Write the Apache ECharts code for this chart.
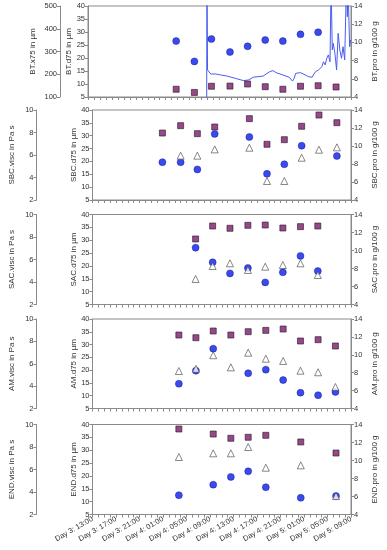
<!DOCTYPE html>
<html><head><meta charset="utf-8">
<script src="https://cdn.jsdelivr.net/npm/echarts@6/dist/echarts.min.js"></script>
<style>html,body{margin:0;padding:0;background:#fff}#c{width:387px;height:550px}</style>
</head><body><div id="c"></div>
<script>
// x values: hours since Day 3, 13:00
const xTickLabelsStart = {day: 3, hour: 13};

const btTime = [14.75, 17.8, 20.65, 23.75, 26.7, 29.65, 32.6, 35.55, 38.5, 41.5];
const btD75  = [26.5, 18.7, 27.3, 22.3, 24.5, 26.9, 26.5, 29.1, 29.9, null];
const btPro  = [4.85, 4.5, 5.18, 5.2, 5.43, 5.13, 4.85, 5.18, 5.24, 5.1];
const x75Hours  = [19.85,19.9,20.0,20.54,21.36,22.18,23.28,24.64,26.02,26.28,26.84,27.66,29.30,30.38,30.93,31.48,32.57,33.66,34.21,34.48,34.75,35.57,36.93,37.49,38.03,38.57,39.13,39.39,39.67,39.95,40.21,40.49,40.66,40.87,41.03,41.31,41.59,41.85,42.13,42.41,42.67,42.95,43.23,43.39,43.49,43.77,43.93];
const x75Values = [0,650,219,201,201,197,192,182,172,167,175,187,192,211,216,207,197,187,170,182,204,207,189,187,211,219,233,255,241,270,285,255,600,307,336,292,219,380,307,270,321,263,600,453,600,321,351];

const sbcTime = [11.9, 15.0, 17.85, 20.8, 26.7, 29.7, 32.65, 35.6, 38.55, 41.6];
const sbcD75  = [19.7, 19.7, 16.9, 30.7, 29.5, 15.2, 18.9, 26.1, null, 22.1];
const sbcPro  = [11.44, 12.26, 11.37, 12.11, 13.04, 10.19, 10.7, 12.19, 13.44, 12.59];
const sbcVisc = [null, 5.94, 5.94, 6.5, 6.65, 3.69, 3.69, 5.76, 6.47, 6.68];

const sacTime = [17.55, 20.45, 23.4, 26.45, 29.4, 32.4, 35.4, 38.35];
const sacD75  = [27.1, 21.4, 17.1, 19.2, 13.6, 17.5, 23.9, 18.0];
const sacPro  = [11.28, 12.72, 12.47, 12.8, 12.83, 12.5, 12.65, 12.72];
const sacVisc = [4.27, 5.42, 5.66, 5.07, 5.36, 5.51, 5.66, 4.62];

const amTime = [14.7, 17.6, 20.55, 23.55, 26.5, 29.5, 32.45, 35.4, 38.4, 41.35];
const amD75  = [14.7, 19.8, 28.4, null, 18.8, 20.2, 16.1, 11.2, 10.2, 11.5];
const amPro  = [12.21, 11.91, 12.66, 12.21, 12.58, 12.73, 12.88, 11.54, 11.69, 10.98];
const amVisc = [5.35, 5.55, 6.76, 5.68, 6.99, 6.45, 6.25, 5.38, 5.24, 3.92];

const endTime = [14.7, 20.55, 23.55, 26.5, 29.5, 35.45, 41.45];
const endD75  = [12.5, 16.6, 19.6, 21.8, 15.6, 11.5, 12.2];
const endPro  = [13.5, 12.94, 12.47, 12.58, 12.8, 12.06, 10.83];
const endVisc = [7.11, 7.44, 7.44, 8.0, 6.16, 6.37, 3.64];

const panelNames = ['BT', 'SBC', 'SAC', 'AM', 'END'];

// ---------- layout / styling ----------
const FONT = 'Liberation Sans, Arial, sans-serif';
const AX = '#8a8a8a', TXT = '#333';
const tops = [6, 110, 214.5, 319, 424.5];
const heights = [91, 90, 90, 89.5, 90];

function pairs(t, v) { const r = []; t.forEach((x, i) => { if (v[i] != null) r.push([x, v[i]]); }); return r; }
function fmtX(v) {
  const tot = v + xTickLabelsStart.hour;
  const d = xTickLabelsStart.day + Math.floor(tot / 24);
  const h = Math.round(tot % 24);
  return 'Day ' + d + ': ' + String(h).padStart(2, '0') + ':00';
}

const panels = [
  {time: btTime, d75: btD75, pro: btPro, visc: null},
  {time: sbcTime, d75: sbcD75, pro: sbcPro, visc: sbcVisc},
  {time: sacTime, d75: sacD75, pro: sacPro, visc: sacVisc},
  {time: amTime, d75: amD75, pro: amPro, visc: amVisc},
  {time: endTime, d75: endD75, pro: endPro, visc: endVisc}
];

const grid = [], xAxis = [], yAxis = [], series = [];
const axisCommon = {
  axisLine: {show: true, lineStyle: {color: AX, width: 1}},
  axisTick: {show: true, length: 3, lineStyle: {color: AX}},
  splitLine: {show: false},
  axisLabel: {fontSize: 7.5, color: TXT, fontFamily: FONT, margin: 3},
  nameTextStyle: {fontSize: 8, color: TXT, fontFamily: FONT},
  nameLocation: 'middle',
  nameMoveOverlap: false
};

panels.forEach((p, i) => {
  const nm = panelNames[i];
  grid.push({left: 88, right: 31, top: tops[i], height: heights[i], show: true, borderColor: AX, borderWidth: 1, containLabel: false});
  xAxis.push(Object.assign({}, axisCommon, {
    gridIndex: i, type: 'value', min: 0, max: 44, interval: 4,
    minorTick: {show: true, splitNumber: 4, length: 3, lineStyle: {color: AX}},
    minorSplitLine: {show: false},
    axisLabel: {show: i === 4, rotate: 30, fontSize: 7.5, color: TXT, fontFamily: FONT, margin: 4, formatter: fmtX}
  }));
  // inner left: d75
  yAxis.push(Object.assign({}, axisCommon, {
    gridIndex: i, type: 'value', position: 'left', min: 5, max: 40, interval: 5,
    name: nm + '.d75 in µm', nameGap: 15
  }));
  // outer left: x75 or visc
  if (i === 0) {
    yAxis.push(Object.assign({}, axisCommon, {
      gridIndex: i, type: 'value', position: 'left', offset: 28, min: 100, max: 500, interval: 100,
      name: nm + '.x75 in µm', nameGap: 23
    }));
  } else {
    yAxis.push(Object.assign({}, axisCommon, {
      gridIndex: i, type: 'value', position: 'left', offset: 56, min: 2, max: 10, interval: 2,
      name: nm + '.visc in Pa s', nameGap: 20.5
    }));
  }
  // right: pro
  yAxis.push(Object.assign({}, axisCommon, {
    gridIndex: i, type: 'value', position: 'right', min: 4, max: 14, interval: 2,
    name: nm + '.pro in g/100 g', nameGap: 20
  }));

  if (i === 0) {
    series.push({
      type: 'line', xAxisIndex: 0, yAxisIndex: 1, data: pairs(x75Hours, x75Values),
      showSymbol: false, clip: true, lineStyle: {color: '#4a5cf0', width: 1}, z: 1
    });
  }
  series.push({
    type: 'scatter', xAxisIndex: i, yAxisIndex: i * 3 + 2, data: pairs(p.time, p.pro),
    symbol: 'rect', symbolSize: 6, itemStyle: {color: '#7d1a6b', borderColor: '#2a1a2a', borderWidth: 0.8}, z: 2
  });
  series.push({
    type: 'scatter', xAxisIndex: i, yAxisIndex: i * 3, data: pairs(p.time, p.d75),
    symbol: 'circle', symbolSize: 7, itemStyle: {color: '#0a1ee6', borderColor: '#000a90', borderWidth: 0.5}, z: 3
  });
  if (p.visc) {
    series.push({
      type: 'scatter', xAxisIndex: i, yAxisIndex: i * 3 + 1, data: pairs(p.time, p.visc),
      symbol: 'triangle', symbolSize: 7, itemStyle: {color: '#ffffff', borderColor: '#444', borderWidth: 0.8}, z: 4
    });
  }
});

const chart = echarts.init(document.getElementById('c'), null, {renderer: 'canvas'});
chart.setOption({animation: false, backgroundColor: '#fff', grid, xAxis, yAxis, series});
</script></body></html>
